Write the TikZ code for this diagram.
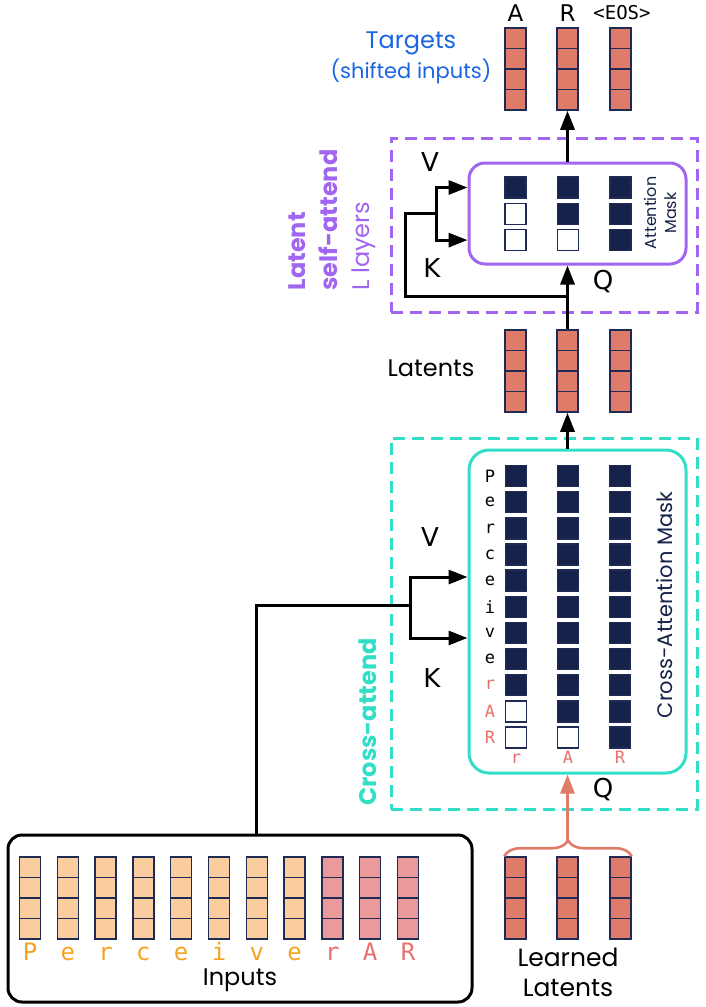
\documentclass[tikz,border=0pt]{standalone}
\usepackage{fontspec}
\setmainfont{Poppins}
\setmonofont{DejaVu Sans Mono}
\newfontfamily\symfont{DejaVu Sans}
\usepackage{tikz}
\usetikzlibrary{arrows.meta,positioning,calc,decorations.pathreplacing}
\usepackage{xcolor}
\definecolor{navy}{HTML}{16224A}
\definecolor{edge}{HTML}{1F2B55}
\definecolor{latent}{HTML}{DF7C69}
\definecolor{tokA}{HTML}{F9CD9E}
\definecolor{tokB}{HTML}{EA9A9A}
\definecolor{orangetxt}{HTML}{F5A21F}
\definecolor{redtxt}{HTML}{E5706C}
\definecolor{selfcol}{HTML}{A066F0}
\definecolor{crosscol}{HTML}{33DEC6}
\definecolor{tgtblue}{HTML}{1A65E3}
\newcommand{\fsz}[2]{\fontsize{#1}{#2}\selectfont}

\tikzset{
  vec/.style={draw=edge, line width=1.5pt, minimum width=21pt, minimum height=82pt, inner sep=0pt,
    path picture={\foreach \k in {1,2,3}{
      \draw[edge, line width=1.5pt]
        ($(path picture bounding box.north west)!\k/4!(path picture bounding box.south west)$) --
        ($(path picture bounding box.north east)!\k/4!(path picture bounding box.south east)$);}}},
  mask/.style={draw=edge, line width=1.5pt, fill=navy, minimum size=21pt, inner sep=0pt},
  hole/.style={mask, fill=white},
  wire/.style={line width=3pt, black},
  arr/.style={wire, -{Triangle[length=19pt,width=14pt]}},
  arrS/.style={line width=2.6pt, latent, -{Triangle[length=19pt,width=14pt]}},
  kqv/.style={font=\symfont\fsz{26}{30}},
  tok/.style={font=\ttfamily\fsz{17}{19}},
  intok/.style={font=\ttfamily\fsz{24}{26}, anchor=base},
}

\begin{document}
\begin{tikzpicture}[x=1pt,y=-1pt]
\useasboundingbox (0,0) rectangle (706,1007);

% dashed blocks
\node[draw=selfcol, line width=3pt, dash pattern=on 12pt off 7pt, minimum width=306pt, minimum height=174pt] (saBlock) at (544,225) {};
\node[draw=crosscol, line width=3pt, dash pattern=on 12pt off 7pt, minimum width=306pt, minimum height=371pt] (caBlock) at (544,623.5) {};

% attention boxes
\node[draw=selfcol, line width=3pt, rounded corners=16pt, minimum width=217pt, minimum height=101pt] (sa) at (577.5,213.5) {};
\node[draw=crosscol, line width=3pt, rounded corners=20pt, minimum width=217pt, minimum height=323pt] (ca) at (577.5,611.5) {};
\node[draw, line width=3pt, rounded corners=14pt, minimum width=464pt, minimum height=167pt] (inp) at (240,918.5) {};

% latent vectors
\foreach \x [count=\k] in {515.5,567.5,620.5}{
  \node[vec, fill=latent] (tgt\k) at (\x,69) {};
  \node[vec, fill=latent] (lat\k) at (\x,371) {};
  \node[vec, fill=latent] (ll\k) at (\x,898) {};
}

% self-attention mask
\foreach \i in {0,1,2}
  \foreach \j in {0,1,2}{
    \ifnum\j<\i
      \node[hole] (sa\i\j) at (515.5+52.5*\j,187.5+26.3*\i) {};
    \else
      \node[mask] (sa\i\j) at (515.5+52.5*\j,187.5+26.3*\i) {};
    \fi
  }

% cross-attention mask
\foreach \j in {0,1,2}
  \foreach \i in {0,...,10}{
    \pgfmathtruncatemacro\lim{8+\j}
    \ifnum\i>\lim
      \node[hole] (ca\i-\j) at (516+52*\j,476+26.15*\i) {};
    \else
      \node[mask] (ca\i-\j) at (516+52*\j,476+26.15*\i) {};
    \fi
  }
\foreach \c [count=\i from 0] in {P,e,r,c,e,i,v,e}
  \node[tok] (row\i) at (490,476+26.15*\i) {\c};
\foreach \c [count=\i from 8] in {r,A,R}
  \node[tok, text=redtxt] (row\i) at (490,476+26.15*\i) {\c};
\foreach \c [count=\j from 0] in {r,A,R}
  \node[tok, text=redtxt, anchor=base] (col\j) at (516+52*\j,763) {\c};

% inputs
\foreach \c [count=\i from 0] in {P,e,r,c,e,i,v,e}{
  \node[vec, fill=tokA] (in\i) at (30+37.8*\i,898) {};
  \node[intok, text=orangetxt] (inl\i) at (30+37.8*\i,960) {\c};
}
\foreach \c [count=\i from 8] in {r,A,R}{
  \node[vec, fill=tokB] (in\i) at (30+37.8*\i,898) {};
  \node[intok, text=redtxt] (inl\i) at (30+37.8*\i,960) {\c};
}

% labels
\node[font=\symfont\fsz{23}{26}, anchor=base] (tA) at (515.5,21) {A};
\node[font=\symfont\fsz{23}{26}, anchor=base] (tR) at (567.5,21) {R};
\node[font=\ttfamily\fsz{19}{22}, anchor=base] (tE) at (622,19) {<EOS>};
\node[text=tgtblue, font=\fsz{24}{28}] (tgtTxt) at (411,43) {Targets};
\node[text=tgtblue, font=\fsz{21}{24}] (tgtSub) at (411,71) {(shifted inputs)};
\node[font=\fsz{24}{28}] (latTxt) at (431,368) {Latents};
\node[font=\fsz{24}{28}] (inTxt) at (240,980) {Inputs};
\node[font=\fsz{25}{30}, align=center] (llTxt) at (568,972) {Learned\\Latents};
\node[rotate=90, align=left, text=selfcol, font=\fsz{24}{32}] (saTxt) at (332,220)
  {\textbf{Latent}\\\textbf{self-attend}\\L layers};
\node[rotate=90, text=crosscol, font=\bfseries\fsz{24}{28}] (caTxt) at (368,722) {Cross-attend};
\node[rotate=90, align=center, text=navy, font=\fsz{16}{20}] (saMask) at (660,213) {Attention\\Mask};
\node[rotate=90, text=navy, font=\fsz{21}{24}] (caMask) at (665,605) {Cross-Attention Mask};

\node[kqv] (saV) at (430,162) {V};
\node[kqv] (saK) at (432,268) {K};
\node[kqv] (saQ) at (603,282) {Q};
\node[kqv] (caV) at (430,537) {V};
\node[kqv] (caK) at (432,678) {K};
\node[kqv] (caQ) at (603,790) {Q};

% self-attend wiring
\coordinate (saTap) at (567.5,296);
\coordinate (saFork) at (436,213);
\draw[arr] (lat2.north) -- (lat2.north |- sa.south);
\draw[arr] (tgt2.south |- sa.north) -- (tgt2.south);
\draw[wire] (saTap) -| (405,213) -- (saFork);
\draw[arr] (saFork) |- (sa.west |- sa00);
\draw[arr] (saFork) |- (sa.west |- sa20);

% cross-attend wiring
\coordinate (caFork) at (410,605);
\coordinate (inTap) at (256,605);
\draw[arr] (lat2.south |- ca.north) -- (lat2.south);
\draw[wire] (inp.north -| inTap) -- (inTap) -- (caFork);
\draw[arr] (caFork) |- (ca.west |- 0,577);
\draw[arr] (caFork) |- (ca.west |- 0,638);

% learned latents to queries
\coordinate (llTip) at (567.5,841);
\draw[latent, line width=2.6pt, decorate, decoration={brace, amplitude=16pt}] (ll1.north west) -- (ll3.north east);
\draw[arrS] (llTip) -- (llTip |- ca.south);
\end{tikzpicture}
\end{document}
